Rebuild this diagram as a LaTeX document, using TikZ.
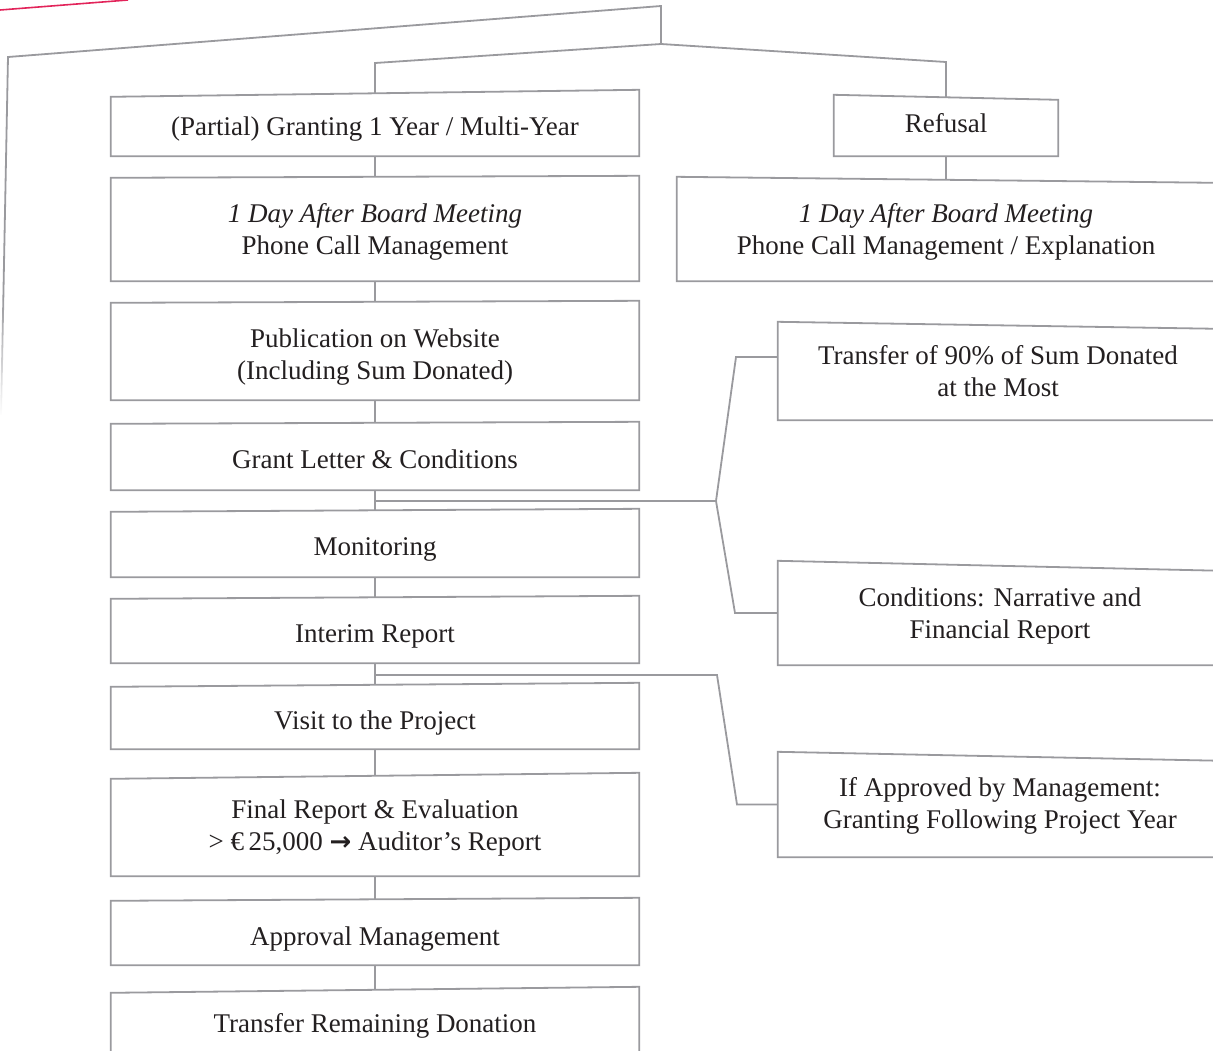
\documentclass[tikz,border=0pt]{standalone}
\usepackage{fontspec}
\setmainfont{Liberation Serif}
\newfontfamily\arrowfont{DejaVu Sans}
\usetikzlibrary{calc,fadings}
\definecolor{ln}{HTML}{9A9A9E}
\definecolor{tx}{HTML}{231F20}
\definecolor{rd}{HTML}{E2245A}
\newcommand\skb[2]{\draw[outl] (#1.south west) -- (#1.north west) -- ([yshift=#2pt]#1.north east) -- (#1.south east) -- cycle;}
\newcommand\tl[2]{\raisebox{#1pt}[\height][\depth]{\begin{tabular}{@{}c@{}}#2\end{tabular}}}
\begin{document}
\begin{tikzpicture}[x=1pt,y=-1pt,
  conn/.style={draw=ln,line width=1.8pt,line join=miter},
  outl/.style={draw=ln,line width=1.8pt,line join=miter},
  box/.style={draw=none,inner sep=0pt,align=center,text=tx,font=\fontsize{27}{32}\selectfont}]
\useasboundingbox (0,0) rectangle (1213,1050);
\clip (0,0) rectangle (1213,1050);
% left column
\node[box,minimum width=528pt,minimum height=59pt]  (g1)  at (375,126.5) {\tl{-3}{(Partial) Granting 1 Year / Multi-Year}};
\node[box,minimum width=528pt,minimum height=103pt] (g2)  at (375,229.5) {\tl{-3}{\textit{1 Day After Board Meeting}\\Phone Call Management}};
\node[box,minimum width=528pt,minimum height=97pt]  (g3)  at (375,351.5) {\tl{-6}{Publication on Website\\(Including Sum Donated)}};
\node[box,minimum width=528pt,minimum height=66pt]  (g4)  at (375,457)   {\tl{-5}{Grant Letter \& Conditions}};
\node[box,minimum width=528pt,minimum height=65pt]  (g5)  at (375,544.5) {\tl{-5}{Monitoring}};
\node[box,minimum width=528pt,minimum height=64pt]  (g6)  at (375,631)   {\tl{-5}{Interim Report}};
\node[box,minimum width=528pt,minimum height=62pt]  (g7)  at (375,718)   {\tl{-5}{Visit to the Project}};
\node[box,minimum width=528pt,minimum height=97pt]  (g8)  at (375,827.5) {\tl{-1}{Final Report \& Evaluation\\> €\,25,000 {\arrowfont\bfseries\fontsize{26}{32}\selectfont →} Auditor’s Report}};
\node[box,minimum width=528pt,minimum height=64pt]  (g9)  at (375,933)   {\tl{-6}{Approval Management}};
\node[box,minimum width=528pt,minimum height=64pt]  (g10) at (375,1025)  {\tl{-1}{Transfer Remaining Donation}};
% right column
\node[box,minimum width=224pt,minimum height=61pt]  (r0) at (946,125.5) {\tl{-1}{Refusal}};
\node[box,minimum width=538pt,minimum height=104pt] (r1) at (946,229)   {\tl{-3}{\textit{1 Day After Board Meeting}\\Phone Call Management / Explanation}};
\node[box,minimum width=440pt,minimum height=98pt]  (r2) at (998,371)   {\tl{-3}{Transfer of 90\% of Sum Donated\\at the Most}};
\node[box,minimum width=444pt,minimum height=104pt] (r3) at (1000,613)  {\tl{-3}{Conditions: Narrative and\\Financial Report}};
\node[box,minimum width=444pt,minimum height=105pt] (r4) at (1000,804.5){\tl{-2}{If Approved by Management:\\Granting Following Project Year}};
% box outlines (slightly skewed tops)
\skb{g1}{7}\skb{g2}{2}\skb{g3}{2}\skb{g4}{2}\skb{g5}{3}
\skb{g6}{3}\skb{g7}{4}\skb{g8}{6}\skb{g9}{3}\skb{g10}{6}
\skb{r0}{-5}\skb{r1}{-6}\skb{r2}{-7}\skb{r3}{-10}\skb{r4}{-9}
% top structure
\draw[draw=rd,line width=1.6pt] (0,10) -- (128,0);
\coordinate (apex) at (661,6);
\coordinate (jn) at (661,44);
\coordinate (fl) at (8,57);
\coordinate (fm) at (3.3,300);
\coordinate (fe) at (1,415);
\coordinate (lc) at (375,63);
\coordinate (rc) at (946,62);
\draw[conn] (fm) -- (fl) -- (apex) -- (jn);
\draw[conn,path fading=south] (fm) -- (fe);
\draw[conn] (jn) -- (lc) -- ([yshift=3.5pt]g1.north);
\draw[conn] (jn) -- (rc) -- ([yshift=-2.5pt]r0.north);
\draw[conn] (r0.south) -- ([yshift=-3pt]r1.north);
% trunk
\draw[conn] (g1.south) -- ([yshift=1pt]g2.north);
\draw[conn] (g2.south) -- ([yshift=1pt]g3.north);
\draw[conn] (g3.south) -- ([yshift=1pt]g4.north);
\draw[conn] (g4.south) -- ([yshift=1.5pt]g5.north);
\draw[conn] (g5.south) -- ([yshift=1.5pt]g6.north);
\draw[conn] (g6.south) -- ([yshift=2pt]g7.north);
\draw[conn] (g7.south) -- ([yshift=3pt]g8.north);
\draw[conn] (g8.south) -- ([yshift=1.5pt]g9.north);
\draw[conn] (g9.south) -- ([yshift=3pt]g10.north);
% branches
\coordinate (b1) at ($(g4.south)!0.5!(g5.north)$);
\path (b1) ++(341,0) coordinate (j1);
\coordinate (k1) at (736,357);
\coordinate (k2) at (735,613);
\draw[conn] (b1) -- (j1) -- (k1) -- (k1 -| r2.west);
\draw[conn] (j1) -- (k2) -- (r3.west);
\coordinate (b2) at ($(g6.south)!0.5!(g7.north)$);
\path (b2) ++(342,0) coordinate (j2);
\coordinate (k3) at (737,804.5);
\draw[conn] (b2) -- (j2) -- (k3) -- (r4.west);
\end{tikzpicture}
\end{document}
